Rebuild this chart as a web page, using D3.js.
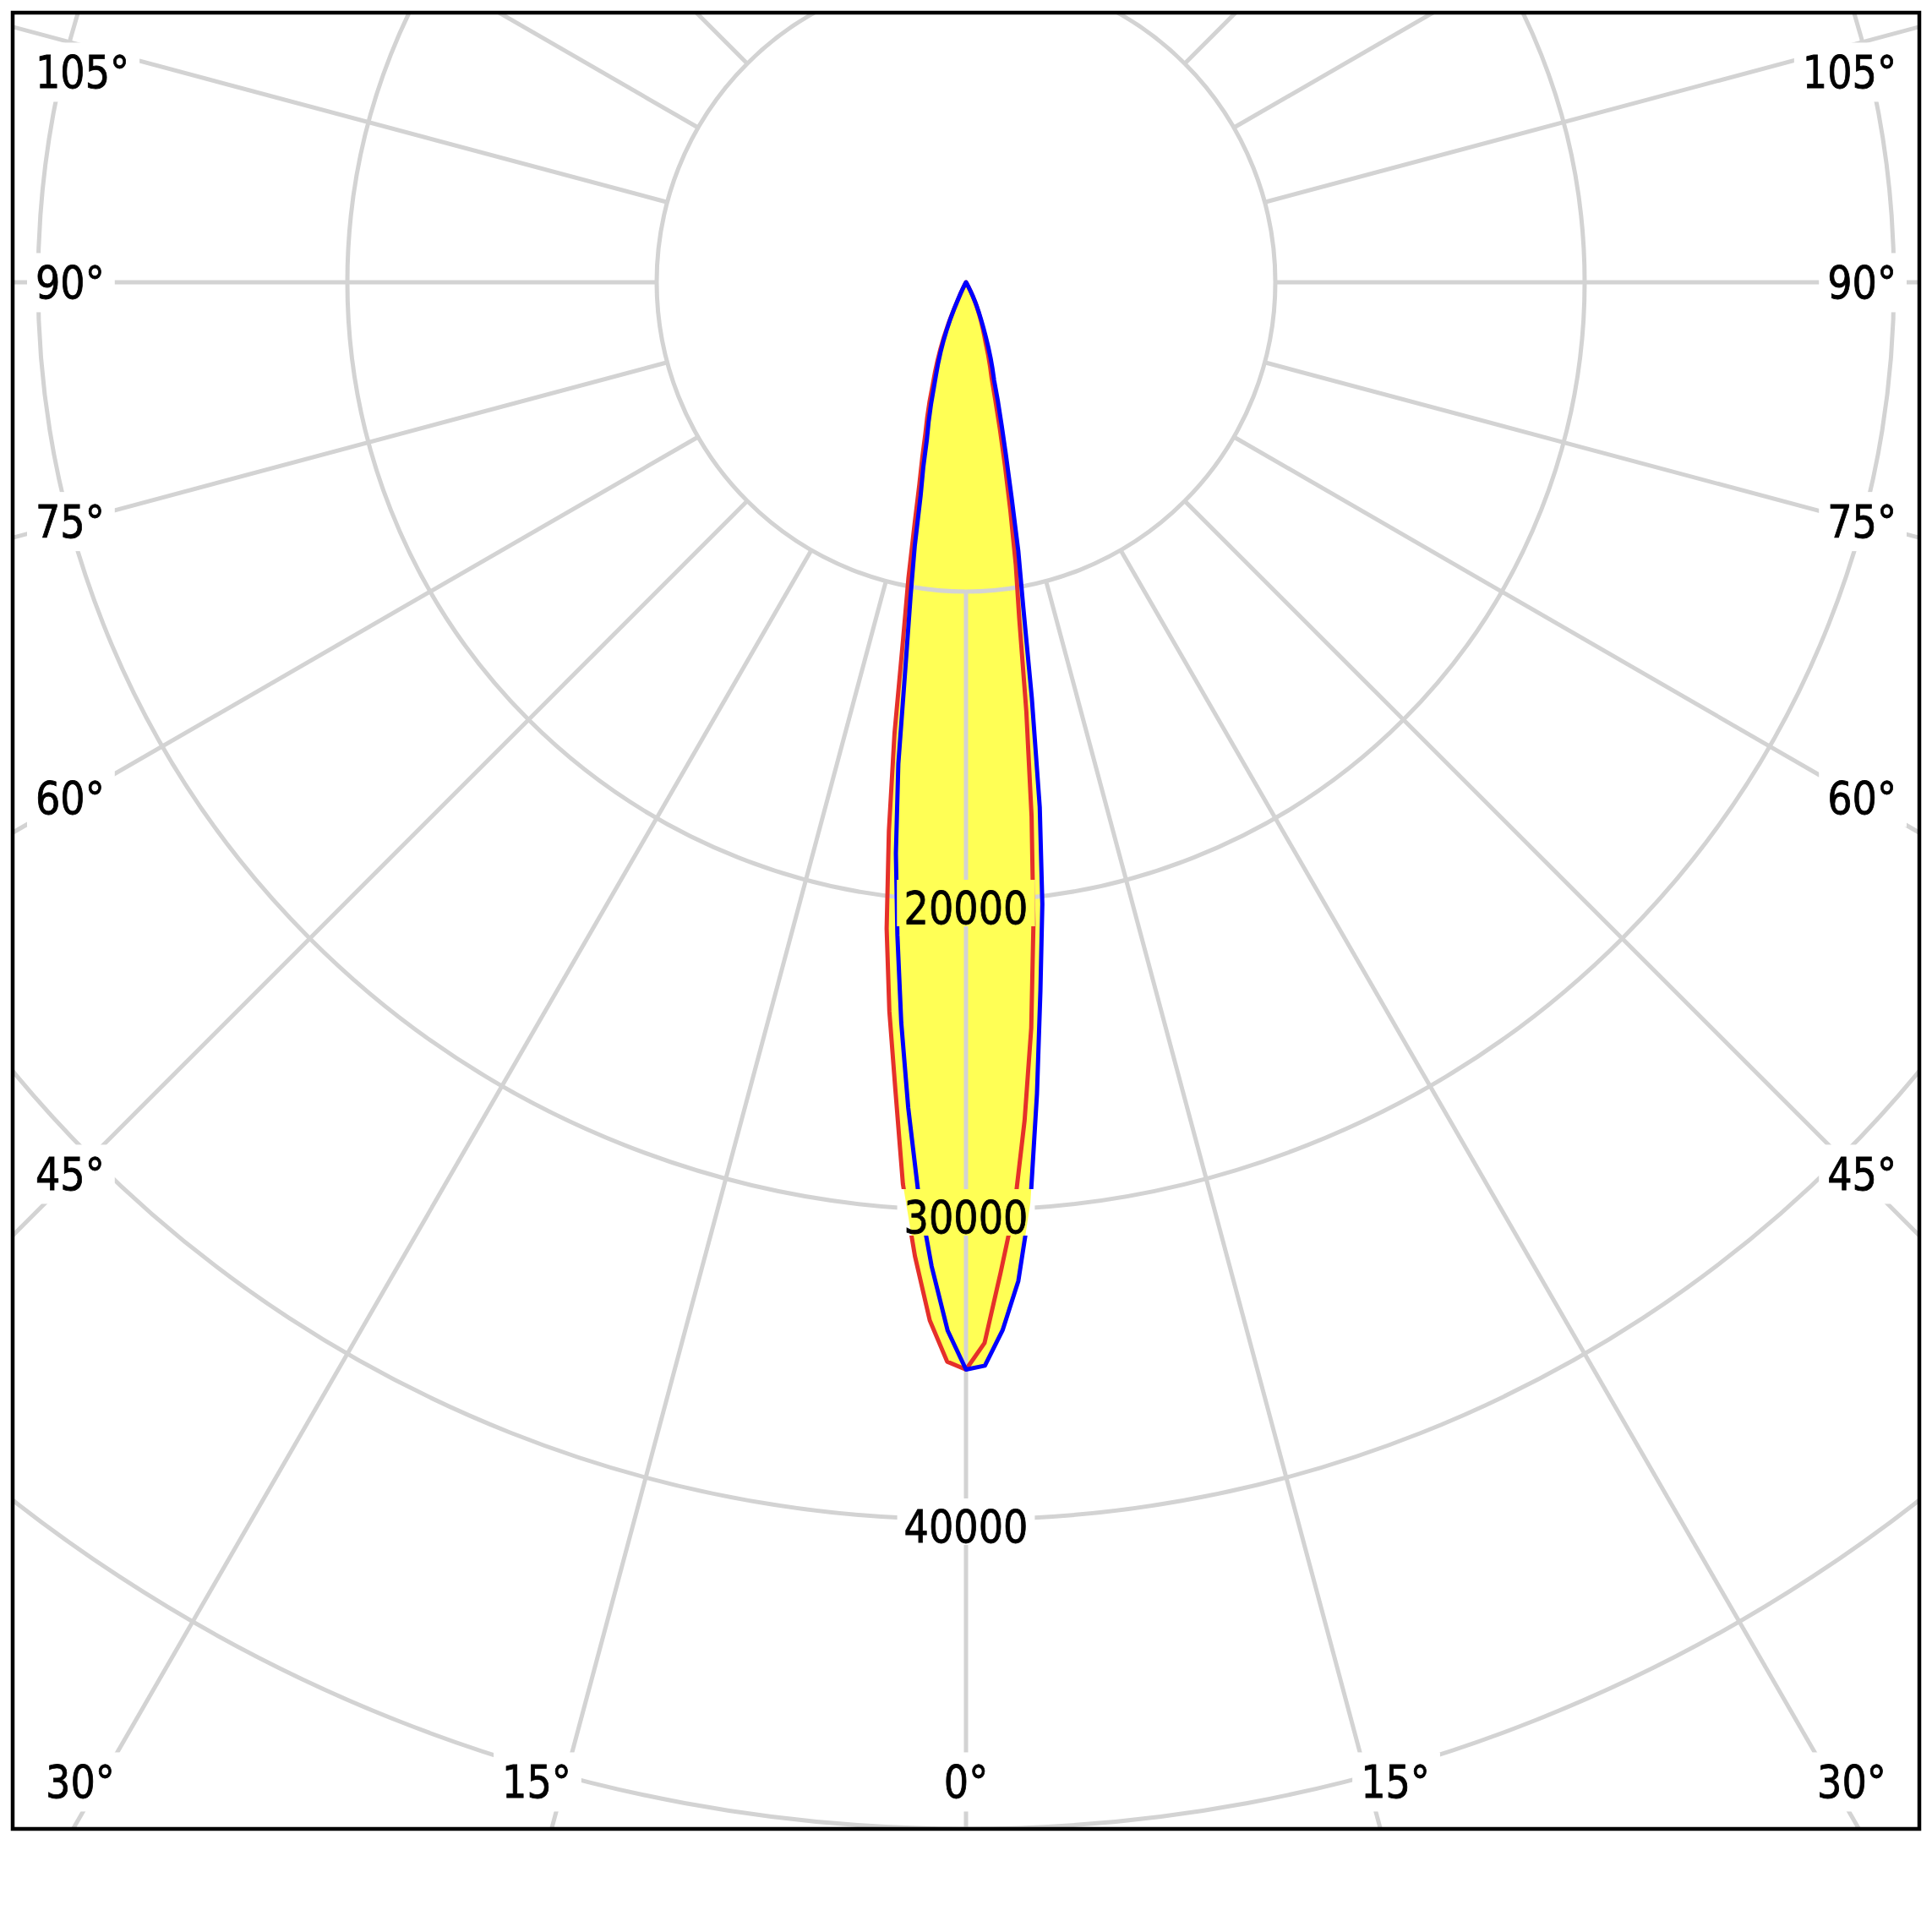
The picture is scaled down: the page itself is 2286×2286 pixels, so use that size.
<!DOCTYPE html>
<html><head><meta charset="utf-8">
<script src="https://cdn.jsdelivr.net/npm/d3@7"></script>
<style>html,body{margin:0;padding:0;background:#fff;} svg{display:block}</style>
</head><body>
<script>
// ---------- data ----------
const angles = [0,1,2,3,4,5,6,7,8,9,10,11,12,13,14,15,16,17,18,19,20,21,22,23,24,25,26,27,28,29,30];
// red curve: C0 (right half) and C180 (left half), cd
const c0   = [35150,34300,32040,29950,27160,24200,20860,17400,14020,11000,9270,7510,6060,4870,3910,3200,2820,2440,2050,1800,1580,1380,1180,1000,830,660,500,340,200,80,0];
const c180 = [35150,34900,33580,31530,29230,26200,23700,21050,17910,14780,11700,9760,8000,6700,5840,5080,4550,4020,3480,3080,2690,2300,1900,1460,1020,580,380,220,100,30,0];
// blue curve: C90 (right half) and C270 (left half), cd
const c90  = [35150,35030,33900,32330,29840,26330,23020,20250,17130,13600,10660,8870,7060,5750,4760,3990,3300,2930,2570,2200,1860,1560,1300,1080,880,700,520,350,200,80,0];
const c270 = [35150,33900,31830,29470,26760,24020,21220,18600,15720,12440,10330,8680,7060,6140,5220,4670,4110,3550,3130,2770,2410,2050,1680,1320,950,580,360,200,90,20,0];
const ringValues = [10000,20000,30000,40000,50000];
const ringLabelValues = [20000,30000,40000];
const spokeAngles = d3.range(0,360,15);
const angleLabelValues = [0,15,30,45,60,75,90,105];

// ---------- layout ----------
const W = 2286, H = 2286;
const frame = {x0:15, y0:15, x1:2271, y1:2164};
const cx = (frame.x0 + frame.x1) / 2, cy = 334;
const r = d3.scaleLinear().domain([0, 50000]).range([0, frame.y1 - cy]);
const fs = 54;
const squeeze = 0.95;
const FONT = "'DejaVu Sans Condensed','DejaVu Sans',sans-serif";
const COL = {fill:"#ffff55", red:"#e5302a", blue:"#0000ff", grid:"#d3d3d3"};

const svg = d3.select("body").append("svg").attr("width", W).attr("height", H);
const defs = svg.append("defs");
defs.append("clipPath").attr("id","frameClip").append("rect")
  .attr("x",frame.x0).attr("y",frame.y0).attr("width",frame.x1-frame.x0).attr("height",frame.y1-frame.y0);

const plot = svg.append("g").attr("clip-path","url(#frameClip)");
const centre = plot.append("g").attr("transform",`translate(${cx},${cy})`);

// d3 radial angle: 0 = up, clockwise. Our gamma is measured from nadir.
const toRad = d => d*Math.PI/180;
function halfPlanePoints(leftVals, rightVals){
  const pts = [];
  for (let i = angles.length-1; i >= 0; i--) pts.push([Math.PI + toRad(angles[i]), r(leftVals[i])]);
  for (let i = 1; i < angles.length; i++) pts.push([Math.PI - toRad(angles[i]), r(rightVals[i])]);
  return pts;
}
const radial = d3.lineRadial().angle(d=>d[0]).radius(d=>d[1]).curve(d3.curveLinearClosed);
const redPts = halfPlanePoints(c180, c0);
const bluePts = halfPlanePoints(c270, c90);

function drawFill(sel){
  sel.append("path").attr("d", radial(redPts)).attr("fill", COL.fill).attr("stroke","none");
  sel.append("path").attr("d", radial(bluePts)).attr("fill", COL.fill).attr("stroke","none");
}
drawFill(centre.append("g"));

// grid
const grid = centre.append("g").attr("fill","none").attr("stroke",COL.grid).attr("stroke-width",5);
grid.selectAll("circle").data(ringValues).join("circle").attr("r", d=>r(d));
grid.selectAll("line").data(spokeAngles).join("line")
  .attr("x1", d=>r(10000)*Math.sin(toRad(d))).attr("y1", d=>r(10000)*Math.cos(toRad(d)))
  .attr("x2", d=>r(120000)*Math.sin(toRad(d))).attr("y2", d=>r(120000)*Math.cos(toRad(d)));

// curves
centre.append("path").attr("d", radial(redPts)).attr("fill","none").attr("stroke",COL.red).attr("stroke-width",5).attr("stroke-linejoin","round");
centre.append("path").attr("d", radial(bluePts)).attr("fill","none").attr("stroke",COL.blue).attr("stroke-width",5).attr("stroke-linejoin","round");

function squeezeText(t){
  const len = t.node().getComputedTextLength();
  t.attr("textLength", len*squeeze).attr("lengthAdjust","spacingAndGlyphs");
}

// ring labels
const labels = svg.append("g").attr("font-family",FONT).attr("font-size",fs).attr("fill","#000");
ringLabelValues.forEach((v,i)=>{
  const g = labels.append("g");
  const base = cy + r(v) + 27;
  const t = g.append("text").attr("x",cx).attr("y",base).attr("text-anchor","middle")
    .attr("stroke","#000").attr("stroke-width",0.8).text(String(v));
  squeezeText(t);
  const bb = t.node().getBBox();
  const bx = bb.x - 8, bw = bb.width + 16, by = base - 52, bh = 55;
  const id = "rl"+i;
  defs.append("clipPath").attr("id",id).append("rect").attr("x",bx).attr("y",by).attr("width",bw).attr("height",bh);
  g.insert("rect","text").attr("x",bx).attr("y",by).attr("width",bw).attr("height",bh).attr("fill","#fff");
  const fg = g.insert("g","text").attr("clip-path",`url(#${id})`).append("g").attr("transform",`translate(${cx},${cy})`);
  drawFill(fg);
});

// angle labels
angleLabelValues.forEach(deg=>{
  [-1,1].forEach(side=>{
    if (deg===0 && side===1) return;
    const g0 = toRad(deg), sx = Math.sin(g0), sy = Math.cos(g0);
    const tB = sy>1e-9 ? (frame.y1-cy)/sy : Infinity;
    const tS = sx>1e-9 ? (cx-frame.x0)/sx : Infinity;
    let x, yc, anchor;
    if (tB <= tS) {
      x = cx + side*(frame.y1 + 66 - cy)*Math.tan(g0);
      x = Math.max(frame.x0+80, Math.min(frame.x1-80, x));
      yc = frame.y1 - 56; anchor = "middle";
    } else {
      const d = cx - frame.x0 - 73;
      yc = cy + d*Math.cos(g0)/sx;
      yc = Math.max(frame.y0 + 70, yc);
      x = side<0 ? frame.x0 + 27 : frame.x1 - 27;
      anchor = side<0 ? "start" : "end";
    }
    const base = yc + 0.36*fs;
    const g = labels.append("g");
    const t = g.append("text").attr("x",x).attr("y",base).attr("text-anchor",anchor)
      .attr("stroke","#000").attr("stroke-width",0.8).text(deg+"°");
    squeezeText(t);
    const bb = t.node().getBBox();
    g.insert("rect","text").attr("x",bb.x-10).attr("y",base-54).attr("width",bb.width+22).attr("height",70).attr("fill","#fff");
  });
});

// frame
svg.append("rect").attr("x",frame.x0).attr("y",frame.y0).attr("width",frame.x1-frame.x0).attr("height",frame.y1-frame.y0)
  .attr("fill","none").attr("stroke","#000").attr("stroke-width",4.5);
</script>
</body></html>
